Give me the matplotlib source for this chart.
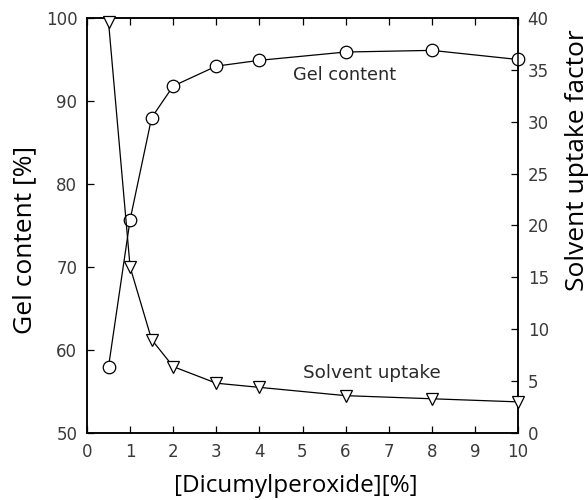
import matplotlib
matplotlib.use("Agg")
import matplotlib.pyplot as plt

dcp = [0.5, 1, 1.5, 2, 3, 4, 6, 8, 10]
gel_content = [58.0, 75.7, 88.0, 91.8, 94.2, 94.9, 95.9, 96.1, 95.0]
solvent_uptake = [39.6, 16.0, 9.0, 6.4, 4.8, 4.4, 3.6, 3.3, 3.0]

x_ticks = list(range(0, 11))
gel_ticks = [50, 60, 70, 80, 90, 100]
uptake_ticks = [0, 5, 10, 15, 20, 25, 30, 35, 40]

fig = plt.figure(figsize=(5.88, 5.0), dpi=100)
ax = fig.add_axes([87/588, 1-433/500, (518-87)/588, (433-18)/500])
ax2 = ax.twinx()

ax.plot(dcp, gel_content, color="black", lw=0.9, marker="o", markersize=9,
        markerfacecolor="white", markeredgecolor="black", markeredgewidth=0.9,
        zorder=3, clip_on=False)
ax2.plot(dcp, solvent_uptake, color="black", lw=0.9, marker="v", markersize=9,
         markerfacecolor="white", markeredgecolor="black", markeredgewidth=0.9,
         zorder=3, clip_on=False)

ax.set_xlim(0, 10)
ax.set_ylim(50, 100)
ax2.set_ylim(0, 40)
ax.set_xticks(x_ticks)
ax.set_yticks(gel_ticks)
ax2.set_yticks(uptake_ticks)

ax.tick_params(axis="both", direction="in", length=5, width=0.9, top=True, pad=7)
ax2.tick_params(axis="y", direction="in", length=5, width=0.9, pad=7)
for lab in ax.get_xticklabels() + ax.get_yticklabels() + ax2.get_yticklabels():
    lab.set_fontfamily("DejaVu Sans")
    lab.set_fontsize(12)
    lab.set_color("#3a3a3a")

for sp in list(ax.spines.values()) + list(ax2.spines.values()):
    sp.set_linewidth(1.1)

ax.text(4.78, 93.1, "Gel content", fontsize=12.8, family="DejaVu Sans",
        color="#2a2a2a", va="center", ha="left")
ax.text(5.01, 57.2, "Solvent uptake", fontsize=13.2, family="DejaVu Sans",
        color="#2a2a2a", va="center", ha="left")

ax.set_xlabel("[Dicumylperoxide][%]", family="Open Sans", fontsize=17.5)
ax.set_ylabel("Gel content [%]", family="Open Sans", fontsize=19)
ax2.set_ylabel("Solvent uptake factor", family="Open Sans", fontsize=19, rotation=90)
ax.xaxis.set_label_coords(296/588, 1-486/500, transform=fig.transFigure)
ax.xaxis.label.set_va("center")
ax.yaxis.set_label_coords(25/588, 1-240/500, transform=fig.transFigure)
ax.yaxis.label.set_va("center")
ax2.yaxis.set_label_coords(577/588, 1-160/500, transform=fig.transFigure)
ax2.yaxis.label.set_va("center")

fig.savefig("out.png", dpi=100)
